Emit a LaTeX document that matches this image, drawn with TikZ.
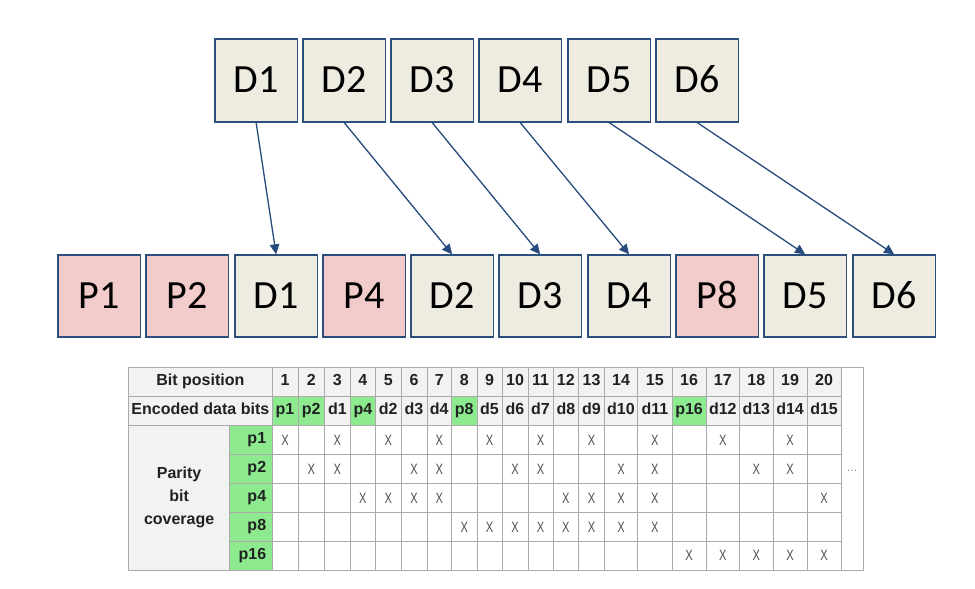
\documentclass[tikz,border=0pt]{standalone}
\usepackage{fontspec}
\setmainfont{Carlito}
\newfontfamily\tabfont{Liberation Sans}
\usetikzlibrary{arrows.meta}
\definecolor{boxblue}{HTML}{2C4F7E}
\definecolor{beige}{HTML}{EEECE1}
\definecolor{pinkish}{HTML}{F2CBCB}
\definecolor{arrowblue}{HTML}{264B7C}
\definecolor{hdrgray}{HTML}{F2F2F2}
\definecolor{cellgreen}{HTML}{8EEA8E}
\definecolor{gridgray}{HTML}{AAAAAA}
\definecolor{xgray}{HTML}{505050}
\definecolor{hdrtext}{HTML}{202122}
\begin{document}
\begin{tikzpicture}[x=1pt,y=-1pt,
  bitbox/.style={draw=boxblue, line width=1.2pt, minimum width=82.4pt, inner sep=0pt, anchor=north west, text height=25pt, text depth=0pt, font=\fontsize{40}{40}\selectfont},
  databox/.style={bitbox, fill=beige},
  paritybox/.style={bitbox, fill=pinkish},
  link/.style={draw=arrowblue, line width=1.3pt, -{Triangle[length=10pt,width=9.5pt]}},
  cell/.style={draw=gridgray, line width=0.7pt, inner sep=0pt, anchor=north west, text=hdrtext, text height=11.5pt, text depth=3.3pt, font=\tabfont\fontsize{16}{18}\selectfont\bfseries},
  xcell/.style={cell, fill=white, text=xgray, text height=10.7pt, text depth=0pt, font=\tabfont\fontsize{15}{16}\selectfont},
]
\useasboundingbox[fill=white] (0,0) rectangle (975,589);

% top data boxes
\foreach \i/\x in {1/214.3,2/302.3,3/390.3,4/478.3,5/567.3,6/655.3}
  \node[databox, minimum height=83pt] (t\i) at (\x,38.3) {D\i};

% bottom encoded word
\node[paritybox, minimum height=82pt] (p1) at (57.3,254.3) {P1};
\node[paritybox, minimum height=82pt] (p2) at (145.3,254.3) {P2};
\node[databox, minimum height=82pt] (b1) at (234.3,254.3) {D1};
\node[paritybox, minimum height=82pt] (p4) at (322.3,254.3) {P4};
\node[databox, minimum height=82pt] (b2) at (410.3,254.3) {D2};
\node[databox, minimum height=82pt] (b3) at (498.3,254.3) {D3};
\node[databox, minimum height=82pt] (b4) at (587.3,254.3) {D4};
\node[paritybox, minimum height=82pt] (p8) at (675.3,254.3) {P8};
\node[databox, minimum height=82pt] (b5) at (763.3,254.3) {D5};
\node[databox, minimum height=82pt] (b6) at (852.3,254.3) {D6};

\foreach \i in {1,...,6}
  \draw[link] (t\i.south) -- (b\i.north);

% table
\node[cell, fill=hdrgray, minimum width=143.4pt, minimum height=29pt] (bitpos) at (128.3,366.5) {Bit position};
\node[cell, fill=hdrgray, minimum width=143.4pt, minimum height=29.5pt] (encbits) at (128.3,395.5) {Encoded data bits};
\node[cell, fill=hdrgray, minimum width=101pt, minimum height=144.5pt, align=center, text height=, text depth=, font=\tabfont\fontsize{16}{23}\selectfont\bfseries] (cover) at (128.3,425) {Parity\\bit\\coverage};
\foreach \k/\ya/\yb in {1/425/454, 2/454/483, 4/483/512, 8/512/541, 16/541/569.5}
  \node[cell, fill=cellgreen, minimum width=42.4pt, minimum height={\yb-\ya}, text width=30.6pt, align=right] (r\k) at (229.3,\ya) {p\k};

\foreach \n/\a/\b/\lab/\col in {
  1/271.7/297.7/p1/cellgreen, 2/297.7/324/p2/cellgreen, 3/324/350/d1/hdrgray,
  4/350/375/p4/cellgreen, 5/375/400.7/d2/hdrgray, 6/400.7/426.7/d3/hdrgray,
  7/426.7/451/d4/hdrgray, 8/451/476.7/p8/cellgreen, 9/476.7/501.7/d5/hdrgray,
  10/501.7/527.7/d6/hdrgray, 11/527.7/552.7/d7/hdrgray, 12/552.7/578.3/d8/hdrgray,
  13/578.3/604/d9/hdrgray, 14/604/637.3/d10/hdrgray, 15/637.3/671.7/d11/hdrgray,
  16/671.7/705.7/p16/cellgreen, 17/705.7/739.3/d12/hdrgray, 18/739.3/772.7/d13/hdrgray,
  19/772.7/806.7/d14/hdrgray, 20/806.7/840.7/d15/hdrgray}{
  \node[cell, fill=hdrgray, minimum width={\b-\a}, minimum height=29pt] (n\n) at (\a,366.5) {\n};
  \node[cell, fill=\col, minimum width={\b-\a}, minimum height=29.5pt] (e\n) at (\a,395.5) {\lab};
  \foreach \k/\ya/\yb in {1/425/454, 2/454/483, 4/483/512, 8/512/541, 16/541/569.5}{
    \pgfmathtruncatemacro\bitset{mod(floor(\n/\k),2)}
    \ifnum\bitset=1 \def\xmk{\scalebox{0.74}[1]{X}}\else\def\xmk{}\fi
    \node[xcell, minimum width={\b-\a}, minimum height={\yb-\ya}] (c\n-\k) at (\a,\ya) {\xmk};
  }
}
\node[cell, fill=white, minimum width=22.6pt, minimum height=203pt] (more) at (840.7,366.5) {};
\node[text=gray, font=\tabfont\fontsize{11}{12}\selectfont, inner sep=0pt] (moredots) at (852,471) {…};
\end{tikzpicture}
\end{document}
